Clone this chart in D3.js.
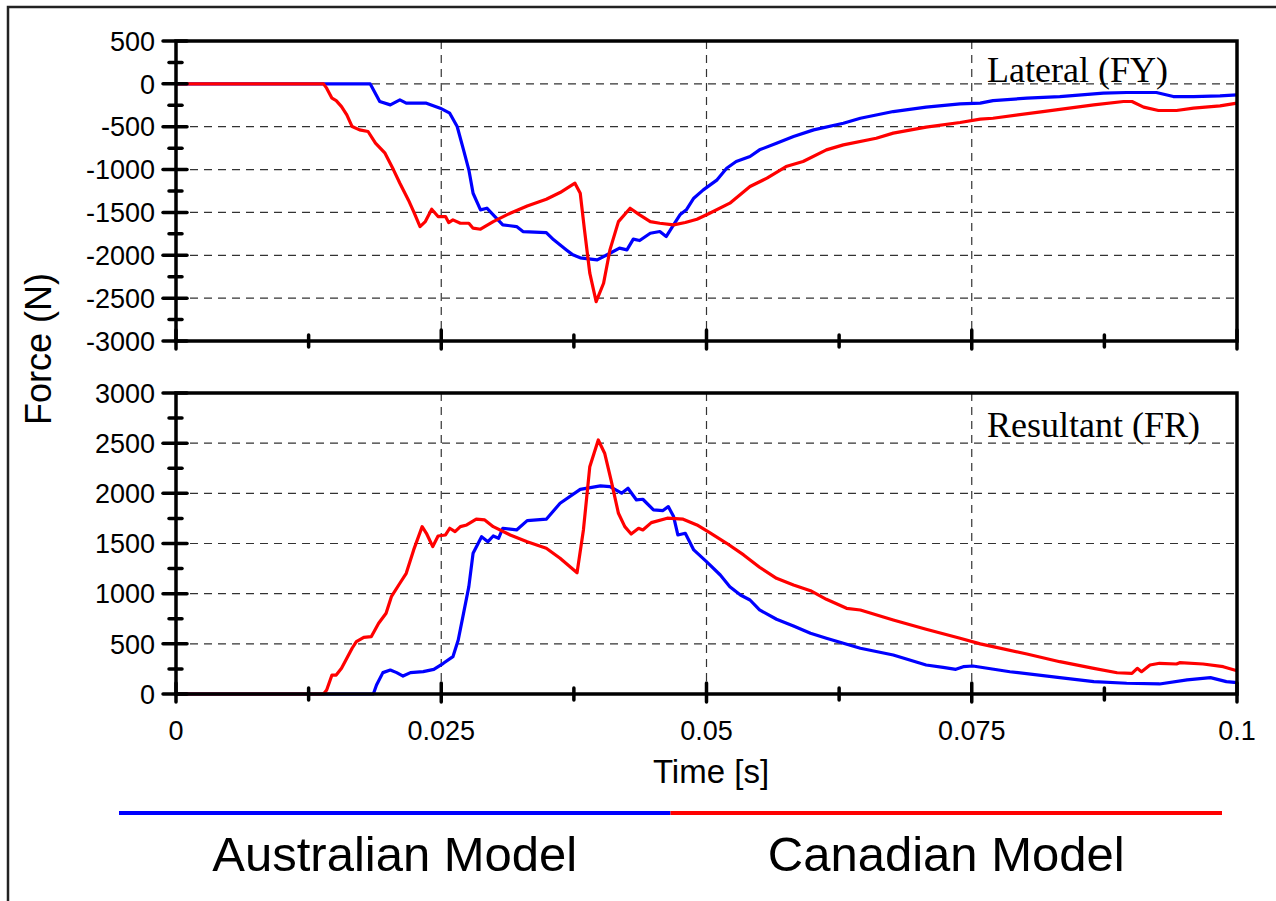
<!DOCTYPE html>
<html>
<head>
<meta charset="utf-8">
<script src="https://cdn.jsdelivr.net/npm/d3@7"></script>
<style>
  html, body { margin: 0; padding: 0; background: #fff; }
  svg { display: block; }
  text { font-family: "Liberation Sans", Arial, sans-serif; fill: #000; }
  text.panel-title { font-family: "Liberation Serif", "Times New Roman", serif; }
</style>
</head>
<body>
<svg id="chart" width="1276" height="901"></svg>
<script>
// ---- Data: time [s] / force [N] samples per model ----
const seriesNames = ["Australian Model", "Canadian Model"];
const seriesColors = ["#0000ff", "#ff0000"];

// Lateral force (FY)
const ausLateral = [
  [0, 0], [0.0183, 0], [0.0192, -206], [0.0202, -245], [0.0211, -187], [0.0217, -225],
  [0.0236, -225], [0.0249, -284], [0.0258, -342], [0.0265, -498], [0.0271, -770],
  [0.0276, -1003], [0.0280, -1276], [0.0287, -1470], [0.0293, -1451], [0.0299, -1528],
  [0.0308, -1645], [0.0321, -1665], [0.0327, -1723], [0.0349, -1735], [0.0356, -1820],
  [0.0368, -1937], [0.0374, -1995], [0.0381, -2030], [0.0397, -2054], [0.0409, -1976],
  [0.0418, -1917], [0.0425, -1937], [0.0431, -1812], [0.0437, -1828], [0.0447, -1743],
  [0.0456, -1723], [0.0462, -1781], [0.0470, -1626], [0.0475, -1528], [0.0481, -1470],
  [0.0488, -1334], [0.0497, -1237], [0.0510, -1120], [0.0519, -984], [0.0528, -906],
  [0.0541, -848], [0.0550, -770], [0.0566, -692], [0.0582, -615], [0.0601, -537],
  [0.0629, -459], [0.0645, -401], [0.0676, -323], [0.0707, -272], [0.0739, -233],
  [0.0758, -225], [0.0770, -195], [0.0802, -167], [0.0833, -148], [0.0874, -109],
  [0.0896, -101], [0.0924, -101], [0.0940, -148], [0.0959, -148], [0.0984, -140], [0.1, -128]
];
const canLateral = [
  [0, 0], [0.0139, 0], [0.0142, -50], [0.0147, -167], [0.0151, -195], [0.0156, -265],
  [0.0161, -362], [0.0166, -498], [0.0173, -537], [0.0181, -556], [0.0188, -692],
  [0.0197, -809], [0.0205, -1003], [0.0211, -1159], [0.0219, -1354], [0.0224, -1490],
  [0.0230, -1665], [0.0235, -1607], [0.0241, -1463], [0.0247, -1548], [0.0254, -1548],
  [0.0257, -1618], [0.0261, -1587], [0.0268, -1626], [0.0276, -1626], [0.0280, -1684],
  [0.0287, -1696], [0.0299, -1607], [0.0315, -1509], [0.0331, -1424], [0.0349, -1346],
  [0.0362, -1268], [0.0376, -1159], [0.0381, -1276], [0.0385, -1704], [0.0390, -2209],
  [0.0396, -2540], [0.0403, -2326], [0.0409, -1937], [0.0417, -1607], [0.0428, -1451],
  [0.0437, -1528], [0.0447, -1607], [0.0456, -1626], [0.0469, -1645], [0.0480, -1618],
  [0.0491, -1579], [0.0503, -1509], [0.0522, -1392], [0.0541, -1198], [0.0557, -1100],
  [0.0575, -965], [0.0591, -906], [0.0613, -770], [0.0629, -712], [0.0660, -634],
  [0.0676, -575], [0.0707, -505], [0.0739, -451], [0.0758, -412], [0.0770, -401],
  [0.0817, -323], [0.0865, -245], [0.0893, -206], [0.0901, -206], [0.0912, -272],
  [0.0926, -311], [0.0943, -311], [0.0959, -284], [0.0984, -257], [0.1, -225]
];

// Resultant force (FR)
const ausResultant = [
  [0, 0], [0.0186, 0], [0.0189, 90], [0.0195, 213], [0.0202, 239], [0.0208, 213],
  [0.0214, 179], [0.0221, 213], [0.0233, 223], [0.0243, 246], [0.0252, 306],
  [0.0261, 372], [0.0266, 538], [0.0271, 804], [0.0276, 1070], [0.0280, 1403],
  [0.0288, 1568], [0.0294, 1518], [0.0299, 1575], [0.0304, 1552], [0.0308, 1652],
  [0.0321, 1635], [0.0331, 1728], [0.0349, 1742], [0.0362, 1901], [0.0381, 2040],
  [0.0400, 2074], [0.0409, 2067], [0.0420, 2001], [0.0426, 2051], [0.0434, 1934],
  [0.0440, 1941], [0.0450, 1835], [0.0459, 1828], [0.0464, 1868], [0.0469, 1768],
  [0.0473, 1585], [0.0480, 1602], [0.0488, 1436], [0.0500, 1319], [0.0513, 1186],
  [0.0522, 1070], [0.0532, 987], [0.0541, 937], [0.0550, 838], [0.0566, 745],
  [0.0582, 678], [0.0598, 605], [0.0613, 555], [0.0629, 505], [0.0645, 456],
  [0.0676, 389], [0.0707, 289], [0.0723, 266], [0.0735, 246], [0.0742, 272],
  [0.0751, 279], [0.0786, 222], [0.0833, 163], [0.0865, 123], [0.0896, 107],
  [0.0927, 100], [0.0953, 140], [0.0975, 163], [0.0990, 123], [0.1, 113]
];
const canResultant = [
  [0, 0], [0.0139, 0], [0.0142, 40], [0.0147, 189], [0.0151, 189], [0.0156, 256],
  [0.0161, 356], [0.0166, 456], [0.0170, 521], [0.0177, 565], [0.0184, 571],
  [0.0191, 705], [0.0198, 804], [0.0203, 970], [0.0211, 1104], [0.0217, 1203],
  [0.0224, 1436], [0.0232, 1668], [0.0236, 1602], [0.0242, 1469], [0.0247, 1575],
  [0.0254, 1585], [0.0258, 1652], [0.0263, 1618], [0.0268, 1668], [0.0274, 1685],
  [0.0283, 1742], [0.0291, 1735], [0.0299, 1668], [0.0315, 1585], [0.0331, 1518],
  [0.0349, 1453], [0.0362, 1353], [0.0378, 1209], [0.0384, 1635], [0.0390, 2266],
  [0.0398, 2532], [0.0404, 2400], [0.0410, 2134], [0.0417, 1801], [0.0423, 1668],
  [0.0429, 1595], [0.0436, 1652], [0.0440, 1635], [0.0448, 1708], [0.0463, 1752],
  [0.0478, 1742], [0.0491, 1685], [0.0503, 1608], [0.0519, 1502], [0.0535, 1386],
  [0.0550, 1263], [0.0566, 1153], [0.0582, 1087], [0.0598, 1030], [0.0613, 944],
  [0.0632, 854], [0.0645, 837], [0.0676, 738], [0.0707, 645], [0.0739, 555],
  [0.0758, 500], [0.0770, 472], [0.0802, 399], [0.0833, 322], [0.0865, 256],
  [0.0887, 212], [0.0901, 206], [0.0906, 256], [0.0910, 222], [0.0918, 289],
  [0.0927, 306], [0.0943, 299], [0.0946, 312], [0.0968, 299], [0.0987, 272], [0.1, 232]
];

// Axis ticks and labels
const timeTicks = [0, 0.025, 0.05, 0.075, 0.1];
const timeTickLabels = ["0", "0.025", "0.05", "0.075", "0.1"];
const timeMinorTicks = [0.0125, 0.0375, 0.0625, 0.0875];
const lateralTicks = [500, 0, -500, -1000, -1500, -2000, -2500, -3000];
const resultantTicks = [3000, 2500, 2000, 1500, 1000, 500, 0];
const panelTitles = ["Lateral (FY)", "Resultant (FR)"];
const xAxisTitle = "Time [s]";
const yAxisTitle = "Force (N)";

// ---- Layout ----
const svg = d3.select("#chart");
const plotLeft = 176, plotRight = 1237;

const x = d3.scaleLinear().domain([0, 0.1]).range([plotLeft, plotRight]);

const panels = [
  { title: panelTitles[0], y: d3.scaleLinear().domain([-3000, 500]).range([341, 41]),
    ticks: lateralTicks, series: [ausLateral, canLateral], titleY: 82, labelsX: false },
  { title: panelTitles[1], y: d3.scaleLinear().domain([0, 3000]).range([694, 393]),
    ticks: resultantTicks, series: [ausResultant, canResultant], titleY: 437, labelsX: true }
];

// Outer frame (top and left edges)
svg.append("path")
  .attr("d", "M8,901 L8,7 L1276,7")
  .attr("fill", "none").attr("stroke", "#222").attr("stroke-width", 2.5);

panels.forEach(p => {
  const g = svg.append("g");
  const y = p.y;
  const [yMin, yMax] = y.domain();
  const top = y(yMax), bottom = y(yMin);

  // Dashed grid
  const grid = g.append("g").attr("stroke", "#333").attr("stroke-width", 1.2)
    .attr("stroke-dasharray", "8,6");
  grid.selectAll("line.h").data(p.ticks.filter(v => v !== yMin && v !== yMax))
    .join("line").attr("class", "h")
    .attr("x1", plotLeft).attr("x2", plotRight)
    .attr("y1", d => y(d)).attr("y2", d => y(d));
  grid.selectAll("line.v").data(timeTicks.filter(t => t > 0 && t < 0.1))
    .join("line").attr("class", "v")
    .attr("x1", d => x(d)).attr("x2", d => x(d))
    .attr("y1", top).attr("y2", bottom);

  // Series lines
  const line = d3.line().x(d => x(d[0])).y(d => y(d[1]));
  p.series.forEach((data, i) => {
    g.append("path").datum(data)
      .attr("d", line)
      .attr("fill", "none")
      .attr("stroke", seriesColors[i])
      .attr("stroke-width", 3.2)
      .attr("stroke-linejoin", "round");
  });

  // Plot box
  g.append("rect")
    .attr("x", plotLeft).attr("y", top)
    .attr("width", plotRight - plotLeft).attr("height", bottom - top)
    .attr("fill", "none").attr("stroke", "#000").attr("stroke-width", 3.5);

  // Y ticks (crossing the axis) and minor ticks
  const tk = g.append("g").attr("stroke", "#000").attr("stroke-width", 3.5)
    .attr("stroke-linecap", "round");
  tk.selectAll("line.maj").data(p.ticks).join("line").attr("class", "maj")
    .attr("x1", plotLeft - 13).attr("x2", plotLeft + 11)
    .attr("y1", d => y(d)).attr("y2", d => y(d));
  const minor = d3.range(yMin + 250, yMax, 500);
  tk.selectAll("line.min").data(minor).join("line").attr("class", "min")
    .attr("x1", plotLeft - 7).attr("x2", plotLeft + 6)
    .attr("y1", d => y(d)).attr("y2", d => y(d));

  // X ticks on the bottom edge
  tk.selectAll("line.xmaj").data(timeTicks).join("line").attr("class", "xmaj")
    .attr("x1", d => x(d)).attr("x2", d => x(d))
    .attr("y1", bottom - 11).attr("y2", bottom + 8);
  tk.selectAll("line.xmin").data(timeMinorTicks).join("line").attr("class", "xmin")
    .attr("x1", d => x(d)).attr("x2", d => x(d))
    .attr("y1", bottom - 6).attr("y2", bottom + 6);

  // Y tick labels
  g.selectAll("text.ytl").data(p.ticks).join("text").attr("class", "ytl")
    .attr("x", plotLeft - 21).attr("y", d => y(d))
    .attr("dy", "0.36em")
    .attr("text-anchor", "end")
    .attr("font-size", 27)
    .text(d => String(d));

  // X tick labels
  if (p.labelsX) {
    g.selectAll("text.xtl").data(timeTicks).join("text").attr("class", "xtl")
      .attr("x", d => x(d)).attr("y", bottom + 46)
      .attr("text-anchor", "middle")
      .attr("font-size", 27)
      .text((d, i) => timeTickLabels[i]);
  }

  // Panel title
  g.append("text")
    .attr("class", "panel-title")
    .attr("x", 987).attr("y", p.titleY)
    .attr("font-size", 36)
    .text(p.title);
});

// Axis titles
svg.append("text")
  .attr("transform", "translate(51,349) rotate(-90)")
  .attr("text-anchor", "middle")
  .attr("font-size", 36)
  .text(yAxisTitle);

svg.append("text")
  .attr("x", 711).attr("y", 783)
  .attr("text-anchor", "middle")
  .attr("font-size", 33)
  .text(xAxisTitle);

// Legend: two colored segments with names centered beneath
const legendX = d3.scaleLinear().domain([0, 2]).range([119, 1222]);
const legend = svg.append("g");
seriesNames.forEach((name, i) => {
  legend.append("line")
    .attr("x1", legendX(i)).attr("x2", legendX(i + 1))
    .attr("y1", 813).attr("y2", 813)
    .attr("stroke", seriesColors[i]).attr("stroke-width", 4);
  legend.append("text")
    .attr("x", (legendX(i) + legendX(i + 1)) / 2).attr("y", 871)
    .attr("text-anchor", "middle")
    .attr("font-size", 49)
    .text(name);
});
</script>
</body>
</html>
